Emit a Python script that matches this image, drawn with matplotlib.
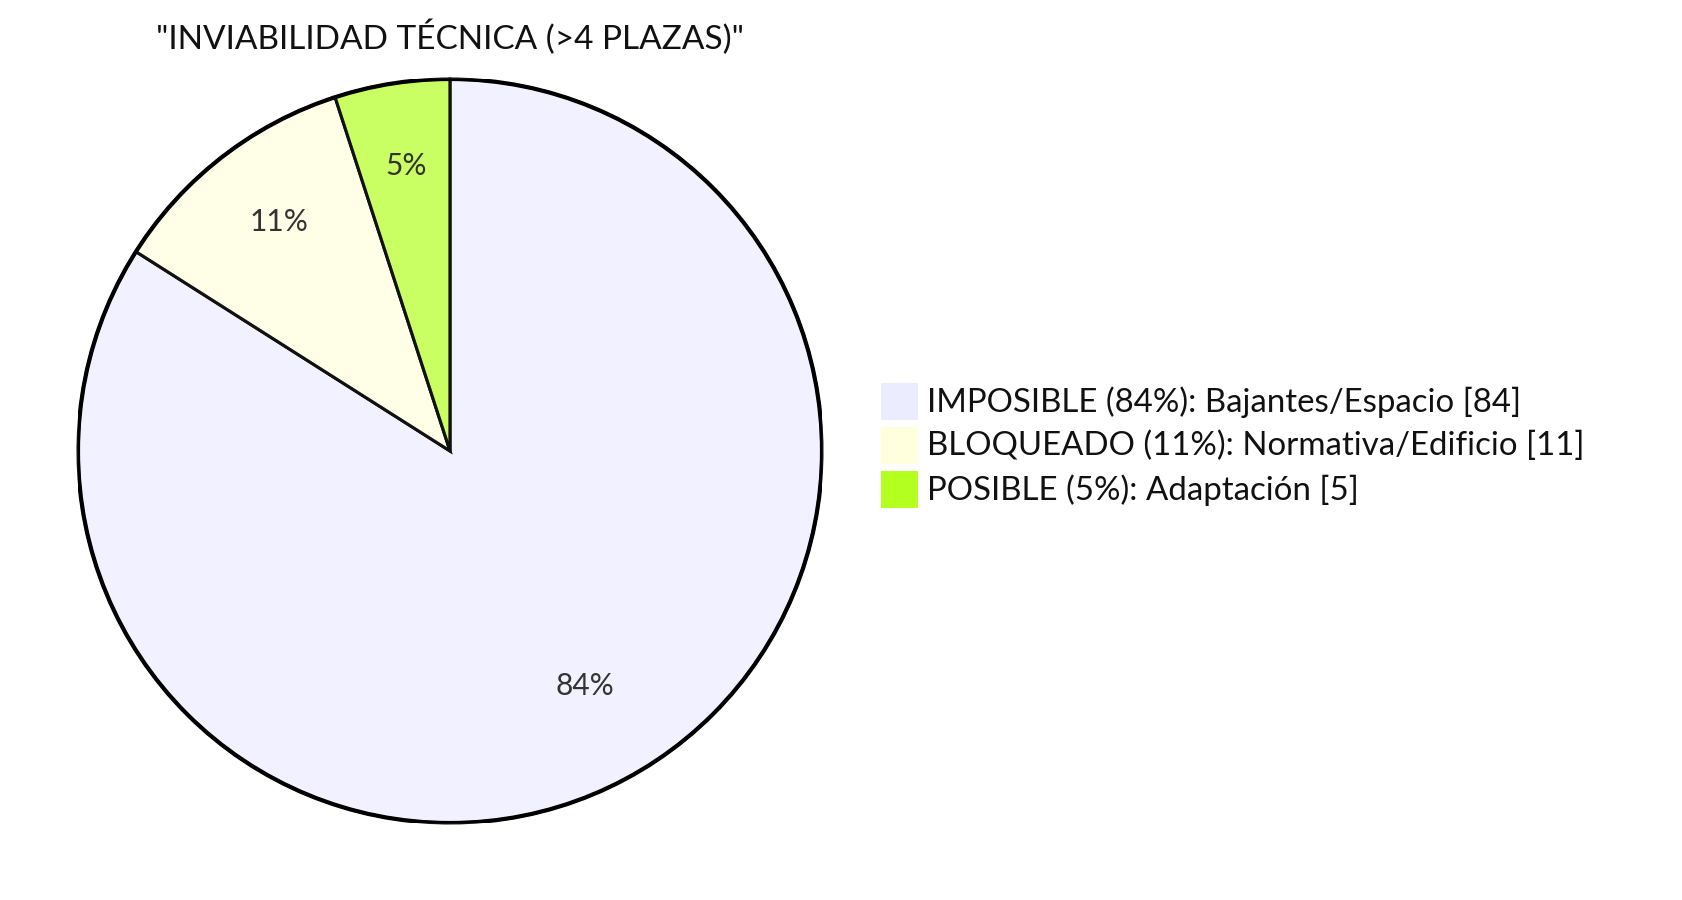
import matplotlib
matplotlib.use("Agg")
import matplotlib.pyplot as plt
from matplotlib.patches import Rectangle

title = '"INVIABILIDAD TÉCNICA (>4 PLAZAS)"'
labels = ["IMPOSIBLE (84%): Bajantes/Espacio",
          "BLOQUEADO (11%): Normativa/Edificio",
          "POSIBLE (5%): Adaptación"]
values = [84, 11, 5]
colors = ["#ECECFF", "#FFFFDE", "#B3FF1F"]

W, H = 1683, 900
plt.rcParams['font.family'] = ['Lato', 'DejaVu Sans']

fig = plt.figure(figsize=(W / 100, H / 100), dpi=100)
fig.patch.set_facecolor("white")

# pie centred at (450, 451) px
cx, cy, r = 450, 451, 372
ax = fig.add_axes([(cx - r) / W, (H - cy - r) / H, 2 * r / W, 2 * r / H])
ax.set_aspect("equal")

wedges, texts, autotexts = ax.pie(
    values, colors=colors, startangle=90, counterclock=False,
    autopct=lambda p: "%d%%" % round(p), pctdistance=0.75,
    wedgeprops=dict(edgecolor="#111111", linewidth=2.2),
    textprops=dict(fontsize=21.5, color="#333333"))
for w in wedges:
    fc = w.get_facecolor()
    w.set_facecolor((fc[0], fc[1], fc[2], 0.7))
for t in autotexts:
    t.set_va("baseline")
# outer ring
ring = plt.Circle((0, 0), 1.0, fill=False, edgecolor="#000000", linewidth=3)
ax.add_patch(ring)
ax.set_xlim(-1.0, 1.0)
ax.set_ylim(-1.0, 1.0)
ax.axis("off")

fig.text(cx / W, 1 - 37 / H, title, ha="center", va="center",
         fontsize=24, color="#111111")

# legend
for i, (lab, val, col) in enumerate(zip(labels, values, colors)):
    top = 383 + i * 44
    fig.patches.append(Rectangle((881 / W, 1 - (top + 37) / H), 37 / W, 37 / H,
                                 transform=fig.transFigure, facecolor=col,
                                 edgecolor="none"))
    fig.text(927 / W, 1 - (top + 19) / H, "%s [%d]" % (lab, val),
             ha="left", va="center", fontsize=23.8, color="#111111")

fig.savefig("out.png", dpi=100)
